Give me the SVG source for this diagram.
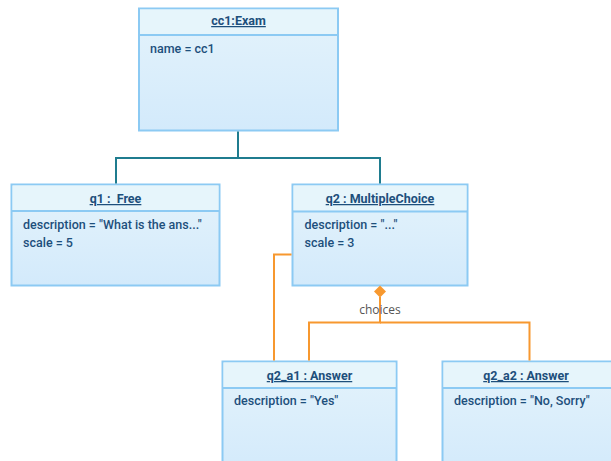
<svg xmlns="http://www.w3.org/2000/svg" width="611" height="461" viewBox="0 0 611 461">
  <defs>
    <linearGradient id="bodyFill" x1="0" y1="0" x2="0" y2="1">
      <stop offset="0" stop-color="#e4f3fb"/>
      <stop offset="1" stop-color="#d3eafb"/>
    </linearGradient>
    <style>
      .box { fill: url(#bodyFill); stroke: #8ccaf3; stroke-width: 2; }
      .head { fill: #e6f5fb; stroke: none; }
      .sep { stroke: #8ccaf3; stroke-width: 2; }
      .title { font-family: Roboto, "Liberation Sans", sans-serif; font-size: 12.5px; font-weight: bold; fill: #1d4f7c; text-anchor: middle; text-decoration: underline; white-space: pre; }
      .attr { font-family: Roboto, "Liberation Sans", sans-serif; font-size: 12.5px; font-weight: 500; fill: #1d4f7c; }
      .gen { fill: none; stroke: #1f7c8f; stroke-width: 2; }
      .comp { fill: none; stroke: #f7982f; stroke-width: 2; }
      .label { font-family: "Open Sans", "Liberation Sans", sans-serif; font-size: 12px; fill: #555555; text-anchor: middle; }
    </style>
  </defs>

  <g id="cc1">
    <rect class="box" x="139" y="8.5" width="199" height="122"/>
    <rect class="head" x="140" y="9.5" width="197" height="25"/>
    <line class="sep" x1="139" y1="35" x2="338" y2="35"/>
    <text class="title" x="238.5" y="25">cc1:Exam</text>
    <text class="attr" x="150" y="53">name = cc1</text>
  </g>

  <g id="q1">
    <rect class="box" x="11.5" y="184.5" width="208" height="101"/>
    <rect class="head" x="12.5" y="185.5" width="206" height="25"/>
    <line class="sep" x1="11.5" y1="211" x2="219.5" y2="211"/>
    <text class="title" x="115.5" y="203" xml:space="preserve">q1 :  Free</text>
    <text class="attr" x="23" y="229">description = "What is the ans..."</text>
    <text class="attr" x="23" y="247">scale = 5</text>
  </g>

  <g id="q2">
    <rect class="box" x="292.5" y="184.5" width="175" height="101"/>
    <rect class="head" x="293.5" y="185.5" width="173" height="25"/>
    <line class="sep" x1="292.5" y1="211.5" x2="467.5" y2="211.5"/>
    <text class="title" x="380" y="203">q2 : MultipleChoice</text>
    <text class="attr" x="304.5" y="229">description = "..."</text>
    <text class="attr" x="304.5" y="247">scale = 3</text>
  </g>

  <g id="q2_a1">
    <rect class="box" x="222.5" y="361.5" width="174" height="110"/>
    <rect class="head" x="223.5" y="362.5" width="172" height="25"/>
    <line class="sep" x1="222.5" y1="388" x2="396.5" y2="388"/>
    <text class="title" x="309.5" y="380">q2_a1 : Answer</text>
    <text class="attr" x="234" y="405">description = "Yes"</text>
  </g>

  <g id="q2_a2">
    <rect class="box" x="442.5" y="361.5" width="180" height="110"/>
    <rect class="head" x="443.5" y="362.5" width="178" height="25"/>
    <line class="sep" x1="442.5" y1="388" x2="622.5" y2="388"/>
    <text class="title" x="526" y="380">q2_a2 : Answer</text>
    <text class="attr" x="454" y="405">description = "No, Sorry"</text>
  </g>

  <!-- links between objects -->
  <g id="connectors">
    <polyline class="gen" points="238,131.5 238,158 116,158 116,183.5"/>
    <polyline class="gen" points="238,158 380,158 380,183.5"/>
    <polyline class="comp" points="291.5,254.5 274,254.5 274,360.5"/>
    <polyline class="comp" points="380,297 380,322.5 309,322.5 309,360.5"/>
    <polyline class="comp" points="380,322.5 529.5,322.5 529.5,360.5"/>
    <polygon points="380,285.5 386,291.5 380,297.5 374,291.5" fill="#f7982f"/>
    <text class="label" x="380" y="314">choices</text>
  </g>
</svg>
